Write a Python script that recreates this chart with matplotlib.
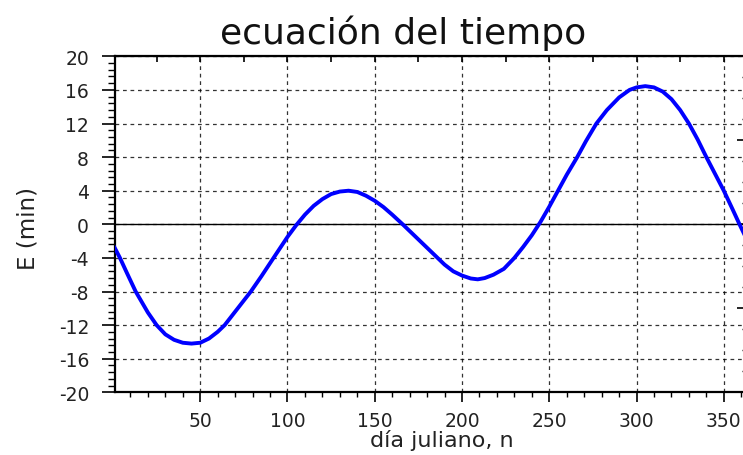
import matplotlib
matplotlib.use("Agg")
import matplotlib.pyplot as plt
from matplotlib.ticker import MultipleLocator, AutoMinorLocator

plt.rcParams["axes.unicode_minus"] = False

# values
dias = [1, 4, 8, 13, 20, 25, 30, 35, 40, 45, 50, 55, 60, 64, 70, 79, 85, 92,
        100, 105, 110, 115, 120, 125, 130, 135, 140, 145, 150, 155, 160, 166,
        170, 175, 180, 186, 190, 195, 200, 205, 209, 213, 218, 224, 230, 235,
        240, 245, 250, 255, 260, 266, 271, 277, 283, 290, 296, 300, 305, 310,
        315, 320, 325, 330, 335, 340, 345, 350, 355, 359, 365]
ecuacion = [-2.8, -4.0, -5.8, -8.0, -10.5, -12.0, -13.1, -13.75, -14.1, -14.2,
            -14.1, -13.6, -12.8, -12.0, -10.4, -8.0, -6.2, -4.0,
            -1.5, -0.1, 1.15, 2.2, 3.0, 3.6, 3.9, 4.0, 3.85, 3.4, 2.8, 2.05,
            1.15, 0.0, -0.8, -1.8, -2.8, -4.0, -4.8, -5.6, -6.1, -6.45, -6.55,
            -6.4, -6.0, -5.3, -4.0, -2.7, -1.3, 0.3, 2.1, 4.0, 5.9, 8.0, 9.9,
            12.0, 13.6, 15.1, 16.0, 16.3, 16.45, 16.3, 15.8, 14.9, 13.6, 12.0,
            10.1, 8.0, 6.0, 4.0, 1.8, 0.0, -2.6]

x_ticks = [50, 100, 150, 200, 250, 300, 350]
y_ticks = [-20, -16, -12, -8, -4, 0, 4, 8, 12, 16, 20]

fig = plt.figure(figsize=(7.43, 4.56), dpi=100)
# the reference is cropped on the right, so the axes run past the figure edge
ax = fig.add_axes([0.1544, 0.1375, 0.855, 0.7368])

ax.plot(dias, ecuacion, color="#0000ff", linewidth=2.8, zorder=3)
ax.axhline(0, color="black", linewidth=1.0, zorder=2)

ax.set_xlim(1, 365)
ax.set_ylim(-20, 20)
ax.set_xticks(x_ticks)
ax.set_yticks(y_ticks)
ax.xaxis.set_minor_locator(AutoMinorLocator(5))
ax.yaxis.set_minor_locator(AutoMinorLocator(5))

ax.grid(True, which="major", color="black", linestyle=(0, (3, 3)),
        linewidth=0.9, alpha=0.8)
for side in ["left", "bottom", "top", "right"]:
    ax.spines[side].set_linewidth(1.6)

ax.tick_params(axis="y", which="major", direction="out", length=9.5,
               width=1.2, pad=9, labelsize=13.5, labelcolor="#222222")
ax.tick_params(axis="y", which="minor", direction="out", length=5, width=1.0)
ax.tick_params(axis="x", which="major", direction="out", length=7.5,
               width=1.2, pad=6, labelsize=13.5, labelcolor="#222222")
ax.tick_params(axis="x", which="minor", direction="out", length=3.8, width=1.0)

# inner ticks on the top and right frame
top = ax.secondary_xaxis("top")
top.xaxis.set_major_locator(MultipleLocator(25))
top.tick_params(direction="in", length=4.5, width=1.2, labeltop=False)
right = ax.secondary_yaxis("right")
right.yaxis.set_major_locator(MultipleLocator(10))
right.yaxis.set_minor_locator(MultipleLocator(2.5))
right.tick_params(which="major", direction="in", length=9.5, width=1.2,
                  labelright=False)
right.tick_params(which="minor", direction="in", length=6, width=1.0)

ax.set_xlabel("día juliano, n", fontsize=16, color="#222222")
ax.xaxis.set_label_coords(0.515, -0.108)
ax.set_ylabel("E (min)", fontsize=16.5, color="#222222")
ax.yaxis.set_label_coords(-0.118, 0.49)

fig.text(403 / 743, 1 - 33 / 456, "ecuación del tiempo", fontsize=26,
         ha="center", va="center", color="#111111")

fig.savefig("out.png", dpi=100)
